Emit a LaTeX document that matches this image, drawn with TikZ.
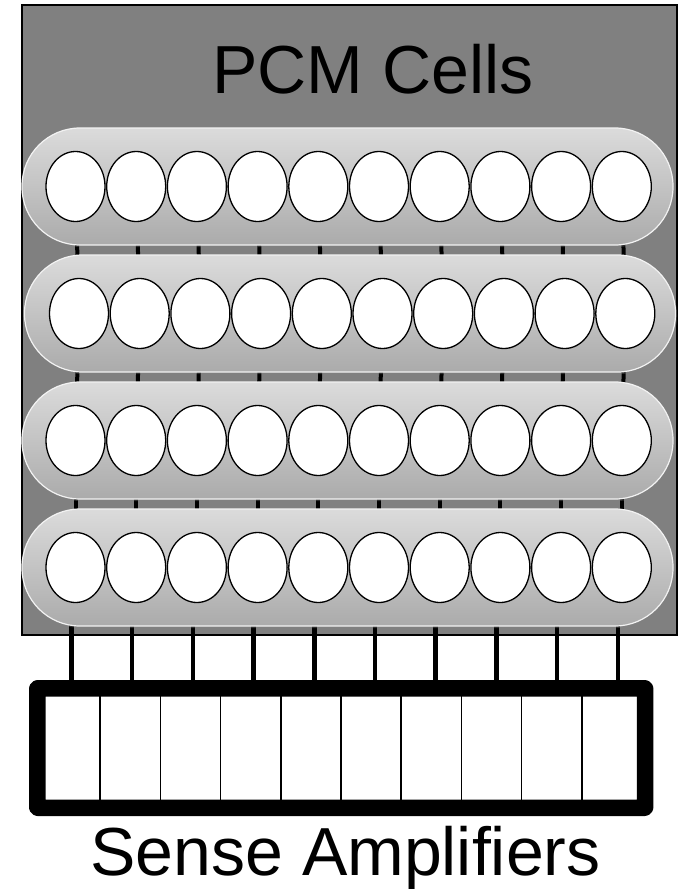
\documentclass[tikz,border=0pt]{standalone}
\usepackage{fontspec}
\setmainfont{Liberation Sans}
\usetikzlibrary{shapes.geometric,shadows}
\pgfdeclarelayer{back}
\pgfdeclarelayer{wires}
\pgfsetlayers{back,wires,main}
\begin{document}
\begin{tikzpicture}[declare function={colstep=60.7; rowstep=127; rowtop=186.5;},x=1pt,y=-1pt,line join=round,
	pill/.style={rectangle,rounded corners=58pt,minimum width=651pt,minimum height=117pt,top color=gray!28,bottom color=gray!66,draw=gray!10,line width=1.2pt,drop shadow={opacity=0.35,shadow xshift=1.5pt,shadow yshift=-2pt}},
	cell/.style={ellipse,draw,line width=1.3pt,fill=white,minimum width=59pt,minimum height=70pt,inner sep=0pt},
	amp/.style={rectangle,draw,line width=1.6pt,minimum width=60.2pt,minimum height=114pt,inner sep=0pt},
	wire/.style={line width=4pt},
	bigtext/.style={font=\fontsize{68}{80}\selectfont,anchor=base,inner sep=0pt}]
	\useasboundingbox (0,0) rectangle (681,889);
	\begin{pgfonlayer}{back}
		\draw[fill=gray,line width=1.5pt] (22,5) rectangle (677,635);
	\end{pgfonlayer}
	\node[bigtext] (title) at (373,93) {PCM Cells};
	\foreach \r/\xp in {1/347.5,2/350,3/347.5,4/347.5}{
		\node[pill] (row\r) at ({\xp},{rowtop+rowstep*(\r-1)}) {};
	}
	\foreach \r/\xo in {1/75.5,2/79,3/75.5,4/75.5}{
		\foreach \i in {0,...,9}{
			\node[cell] (c\r-\i) at ({\xo+colstep*\i},{rowtop+rowstep*(\r-1)}) {};
		}
	}
	\node[draw,fill=white,line width=11pt,rounded corners=3pt,minimum width=602.4pt,minimum height=114pt,inner sep=0pt,drop shadow={opacity=0.3,shadow xshift=1.5pt,shadow yshift=-2.5pt}] (sa) at (341.2,748) {};
	\foreach \i in {0,...,9}{
		\node[amp] (sa-\i) at ({70.1+60.2*\i},748) {};
	}
	\begin{pgfonlayer}{wires}
		\foreach \i in {0,...,9}{
			\draw[wire] (c1-\i.center) -- (c2-\i.center);
			\draw[wire] (c2-\i.center) -- (c3-\i.center);
			\draw[wire] (c3-\i.center) -- (c4-\i.center);
			\draw[wire,line width=4.5pt] ([xshift=-4pt]c4-\i.center) -- ([xshift=-4pt]c4-\i.center |- sa.north);
		}
	\end{pgfonlayer}
	\draw[line width=11pt,rounded corners=3pt] (sa.north west) rectangle (sa.south east);
	\node[bigtext] (label) at (345.5,875) {Sense Amplifiers};
\end{tikzpicture}
\end{document}
